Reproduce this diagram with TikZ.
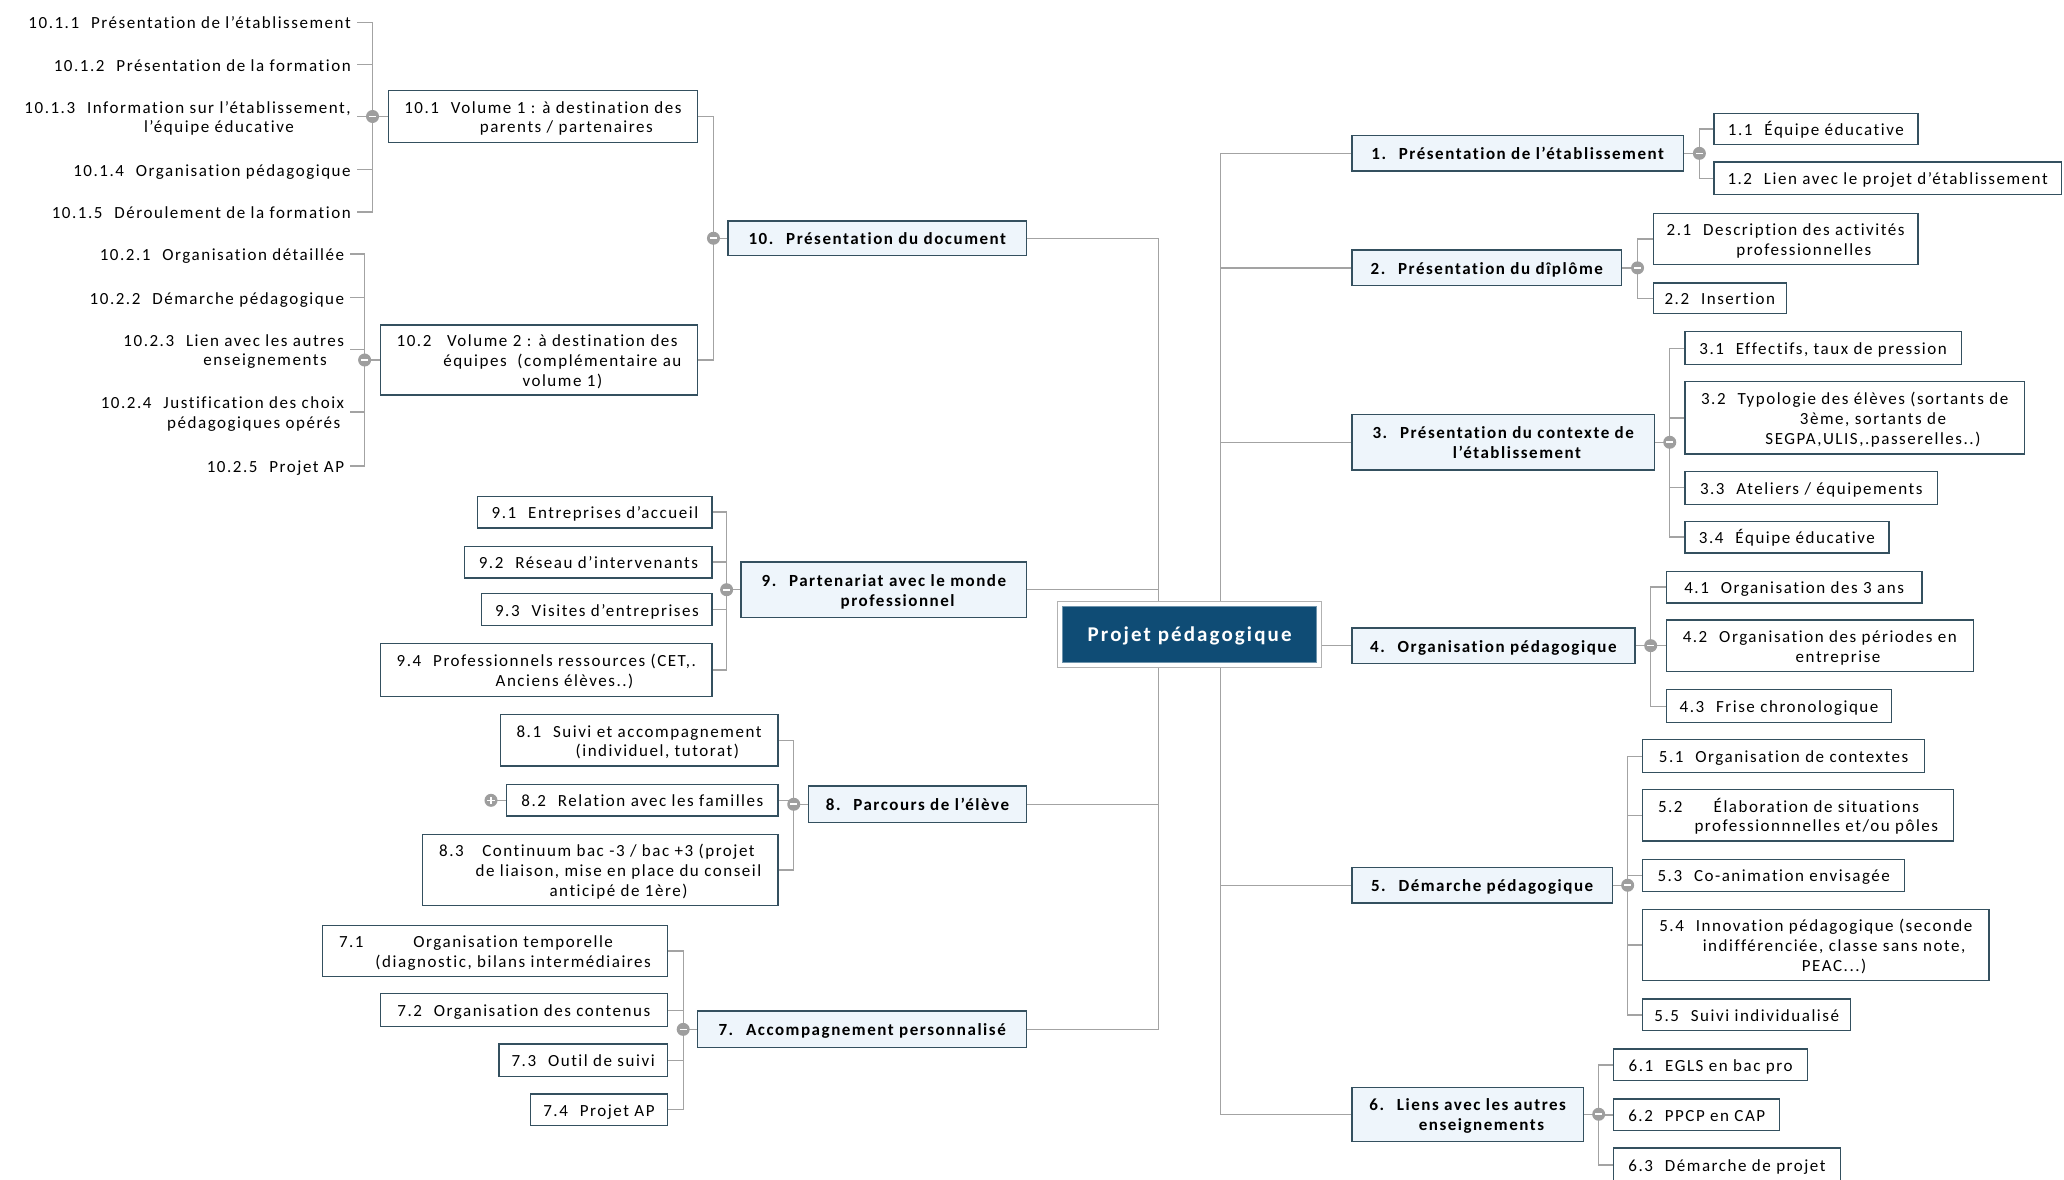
\documentclass[tikz,border=0pt]{standalone}
\usepackage{fontspec}
\setmainfont{Carlito}[LetterSpace=9, Ligatures={NoCommon}]
\usetikzlibrary{calc,backgrounds}
\definecolor{linecol}{HTML}{A3A3A3}
\definecolor{boxcol}{HTML}{34505F}
\definecolor{mainfill}{HTML}{EEF5FB}
\definecolor{rootblue}{HTML}{0F4C75}
\definecolor{circfill}{HTML}{9E9E9E}
\newcommand{\nt}[2]{\rule{0pt}{19pt}#1\hspace{0.7em}\begin{tabular}[t]{@{}c@{}}#2\end{tabular}}
\newcommand{\mt}[2]{\rule{0pt}{19pt}#1\hspace{0.75em}\begin{tabular}[t]{@{}c@{}}#2\end{tabular}}
\tikzset{
  base/.style={inner sep=0pt, outer sep=0pt, font=\fontsize{17}{19.7}\selectfont},
  bx/.style n args={4}{at={({(#1+#3)/2},{(#2+#4)/2})}, minimum width={(#3-#1)*1.3163pt}, minimum height={(#4-#2)*1.3163pt}},
  sub/.style={base, draw=boxcol, line width=1.3pt, fill=white},
  mainn/.style={base, draw=boxcol, line width=1.3pt, fill=mainfill, font=\fontsize{17}{19.7}\selectfont\bfseries},
  lbl/.style={base, anchor=east, outer xsep=6pt},
  conn/.style={draw=linecol, line width=1.3pt},
  minus/.style={circle, fill=circfill, minimum size=13pt, inner sep=0pt,
    path picture={\draw[white, line width=1.6pt] ([xshift=-3.6pt]path picture bounding box.center) -- ([xshift=3.6pt]path picture bounding box.center);}},
  plus/.style={circle, fill=circfill, minimum size=13pt, inner sep=0pt,
    path picture={\draw[white, line width=1.6pt] ([xshift=-3.6pt]path picture bounding box.center) -- ([xshift=3.6pt]path picture bounding box.center)
      ([yshift=-3.6pt]path picture bounding box.center) -- ([yshift=3.6pt]path picture bounding box.center);}}
}
\begin{document}
\begin{tikzpicture}[x=1.3163pt, y=-1.3163pt]
\useasboundingbox (0,0) rectangle (1568,896);
% ---------- root ----------
\node[inner sep=0pt, bx={803}{457}{1004}{507}, draw=gray!60, fill=white, line width=0.8pt] (rootframe) {};
\node[inner sep=0pt, bx={807.5}{460.5}{1000}{503.5}, fill=rootblue, draw=rootblue!60!white, line width=1pt,
  text=white, font=\fontsize{21}{24}\selectfont\bfseries\addfontfeatures{LetterSpace=10}] (root) {\rule{0pt}{17pt}Projet pédagogique};
\coordinate (tR) at (927,482);
\coordinate (tL) at (880,482);
% ---------- right side ----------
\node[mainn, bx={1027}{103}{1279}{130}] (n1) {\mt{1.}{Présentation de l'établissement}};
\node[sub, bx={1302}{86}{1457}{110}] (n11) {\nt{1.1}{Équipe éducative}};
\node[sub, bx={1302}{123}{1566}{148}] (n12) {\nt{1.2}{Lien avec le projet d'établissement}};
\node[mainn, bx={1027}{190}{1232}{217}] (n2) {\mt{2.}{Présentation du dîplôme}};
\node[sub, bx={1256}{162}{1457}{201}] (n21) {\nt{2.1}{Description des activités\\professionnelles}};
\node[sub, bx={1256}{215}{1357}{238}] (n22) {\nt{2.2}{Insertion}};
\node[mainn, bx={1027}{315}{1257}{357}] (n3) {\mt{3.}{Présentation du contexte de\\l'établissement}};
\node[sub, bx={1280}{252}{1490}{277}] (n31) {\nt{3.1}{Effectifs, taux de pression}};
\node[sub, bx={1280}{290}{1538}{345}] (n32) {\nt{3.2}{Typologie des élèves (sortants de\\3ème, sortants de\\SEGPA,ULIS,.passerelles..)}};
\node[sub, bx={1280}{358}{1472}{383}] (n33) {\nt{3.3}{Ateliers / équipements}};
\node[sub, bx={1280}{396}{1435}{420}] (n34) {\nt{3.4}{Équipe éducative}};
\node[mainn, bx={1027}{477}{1242}{504}] (n4) {\mt{4.}{Organisation pédagogique}};
\node[sub, bx={1266}{434}{1460}{458}] (n41) {\nt{4.1}{Organisation des 3 ans}};
\node[sub, bx={1266}{471}{1499}{510}] (n42) {\nt{4.2}{Organisation des périodes en\\entreprise}};
\node[sub, bx={1266}{524}{1437}{549}] (n43) {\nt{4.3}{Frise chronologique}};
\node[mainn, bx={1027}{659}{1225}{686}] (n5) {\mt{5.}{Démarche pédagogique}};
\node[sub, bx={1248}{562}{1462}{587}] (n51) {\nt{5.1}{Organisation de contextes}};
\node[sub, bx={1248}{600}{1484}{639}] (n52) {\nt{5.2}{Élaboration de situations\\professionnnelles et/ou pôles}};
\node[sub, bx={1248}{653}{1447}{677}] (n53) {\nt{5.3}{Co-animation envisagée}};
\node[sub, bx={1248}{691}{1511}{745}] (n54) {\nt{5.4}{Innovation pédagogique (seconde\\indifférenciée, classe sans note,\\PEAC...)}};
\node[sub, bx={1248}{759}{1406}{783}] (n55) {\nt{5.5}{Suivi individualisé}};
\node[mainn, bx={1027}{826}{1203}{867}] (n6) {\mt{6.}{Liens avec les autres\\enseignements}};
\node[sub, bx={1226}{797}{1373}{821}] (n61) {\nt{6.1}{EGLS en bac pro}};
\node[sub, bx={1226}{835}{1352}{859}] (n62) {\nt{6.2}{PPCP en CAP}};
\node[sub, bx={1226}{872}{1398}{898}] (n63) {\nt{6.3}{Démarche de projet}};
% ---------- left side ----------
\node[mainn, bx={553}{168}{780}{194}] (n10) {\mt{10.}{Présentation du document}};
\node[sub, bx={295}{69}{530}{108}] (n101) {\nt{10.1}{Volume 1 : à destination des\\parents / partenaires}};
\node[sub, bx={289}{247}{530}{300}] (n102) {\nt{10.2}{Volume 2 : à destination des\\équipes \ (complémentaire au\\volume 1)}};
\node[lbl] (l1011) at (271,17) {\nt{10.1.1}{Présentation de l'établissement}};
\node[lbl] (l1012) at (271,49) {\nt{10.1.2}{Présentation de la formation}};
\node[lbl] (l1013) at (271,88.5) {\nt{10.1.3}{Information sur l'établissement,\\l'équipe éducative}};
\node[lbl] (l1014) at (271,129) {\nt{10.1.4}{Organisation pédagogique}};
\node[lbl] (l1015) at (271,161) {\nt{10.1.5}{Déroulement de la formation}};
\node[lbl] (l1021) at (266,193) {\nt{10.2.1}{Organisation détaillée}};
\node[lbl] (l1022) at (266,226) {\nt{10.2.2}{Démarche pédagogique}};
\node[lbl] (l1023) at (266,265.5) {\nt{10.2.3}{Lien avec les autres\\enseignements}};
\node[lbl] (l1024) at (266,313) {\nt{10.2.4}{Justification des choix\\pédagogiques opérés}};
\node[lbl] (l1025) at (266,354) {\nt{10.2.5}{Projet AP}};
\node[mainn, bx={563}{427}{780}{469}] (n9) {\mt{9.}{Partenariat avec le monde\\professionnel}};
\node[sub, bx={363}{377}{541}{401}] (n91) {\nt{9.1}{Entreprises d'accueil}};
\node[sub, bx={353}{415}{541}{439}] (n92) {\nt{9.2}{Réseau d'intervenants}};
\node[sub, bx={366}{451}{541}{475}] (n93) {\nt{9.3}{Visites d'entreprises}};
\node[sub, bx={289}{489}{541}{529}] (n94) {\nt{9.4}{Professionnels ressources (CET,.\\Anciens élèves..)}};
\node[mainn, bx={614}{597}{780}{625}] (n8) {\mt{8.}{Parcours de l'élève}};
\node[sub, bx={380}{543}{591}{582}] (n81) {\nt{8.1}{Suivi et accompagnement\\(individuel, tutorat)}};
\node[sub, bx={385}{596}{591}{620}] (n82) {\nt{8.2}{Relation avec les familles}};
\node[sub, bx={321}{634}{591}{688}] (n83) {\nt{8.3}{Continuum bac -3 / bac +3 (projet\\de liaison, mise en place du conseil\\anticipé de 1ère)}};
\node[mainn, bx={530}{768}{780}{796}] (n7) {\mt{7.}{Accompagnement personnalisé}};
\node[sub, bx={245}{703}{507}{742}] (n71) {\nt{7.1}{Organisation temporelle\\(diagnostic, bilans intermédiaires}};
\node[sub, bx={289}{755}{507}{780}] (n72) {\nt{7.2}{Organisation des contenus}};
\node[sub, bx={379}{793}{507}{818}] (n73) {\nt{7.3}{Outil de suivi}};
\node[sub, bx={403}{831}{507}{855}] (n74) {\nt{7.4}{Projet AP}};
% ---------- collapse circles ----------
\node[minus] (c1) at ($(n1.east)+(12,0)$) {};
\node[minus] (c2) at ($(n2.east)+(12,0)$) {};
\node[minus] (c3) at ($(n3.east)+(11.5,0)$) {};
\node[minus] (c4) at ($(n4.east)+(12,0)$) {};
\node[minus] (c5) at ($(n5.east)+(11.5,0)$) {};
\node[minus] (c6) at ($(n6.east)+(11.5,0)$) {};
\node[minus] (c10) at ($(n10.west)+(-11,0)$) {};
\node[minus] (c101) at ($(n101.west)+(-12,0)$) {};
\node[minus] (c102) at ($(n102.west)+(-12,0)$) {};
\node[minus] (c9) at ($(n9.west)+(-11,0)$) {};
\node[minus] (c8) at ($(n8.west)+(-11,0)$) {};
\node[minus] (c7) at ($(n7.west)+(-11,0)$) {};
\node[plus] (p82) at ($(n82.west)+(-12,0)$) {};
% ---------- connectors ----------
\begin{scope}[on background layer]
\fill[white] (0,0) rectangle (1568,896);
\draw[conn] (n1.west) -| (tR) (n2.west) -| (tR) (n3.west) -| (tR)
            (n4.west) -| (tR) (n5.west) -| (tR) (n6.west) -| (tR);
\draw[conn] (n10.east) -| (tL) (n9.east) -| (tL) (n8.east) -| (tL) (n7.east) -| (tL);
\draw[conn] (n1.east) -- (c1.center) (c1.center) |- (n11.west) (c1.center) |- (n12.west);
\draw[conn] (n2.east) -- (c2.center) (c2.center) |- (n21.west) (c2.center) |- (n22.west);
\draw[conn] (n3.east) -- (c3.center) (c3.center) |- (n31.west) (c3.center) |- (n32.west)
            (c3.center) |- (n33.west) (c3.center) |- (n34.west);
\draw[conn] (n4.east) -- (c4.center) (c4.center) |- (n41.west) (c4.center) |- (n42.west) (c4.center) |- (n43.west);
\draw[conn] (n5.east) -- (c5.center) (c5.center) |- (n51.west) (c5.center) |- (n52.west)
            (c5.center) |- (n53.west) (c5.center) |- (n54.west) (c5.center) |- (n55.west);
\draw[conn] (n6.east) -- (c6.center) (c6.center) |- (n61.west) (c6.center) |- (n62.west) (c6.center) |- (n63.west);
\draw[conn] (n10.west) -- (c10.center) (c10.center) |- (n101.east) (c10.center) |- (n102.east);
\draw[conn] (n101.west) -- (c101.center) (c101.center) |- (l1011.east) (c101.center) |- (l1012.east)
            (c101.center) |- (l1013.east) (c101.center) |- (l1014.east) (c101.center) |- (l1015.east);
\draw[conn] (n102.west) -- (c102.center) (c102.center) |- (l1021.east) (c102.center) |- (l1022.east)
            (c102.center) |- (l1023.east) (c102.center) |- (l1024.east) (c102.center) |- (l1025.east);
\draw[conn] (n9.west) -- (c9.center) (c9.center) |- (n91.east) (c9.center) |- (n92.east)
            (c9.center) |- (n93.east) (c9.center) |- (n94.east);
\draw[conn] (n8.west) -- (c8.center) (c8.center) |- (n81.east) (c8.center) |- (n82.east) (c8.center) |- (n83.east);
\draw[conn] (n82.west) -- (p82.center);
\draw[conn] (n7.west) -- (c7.center) (c7.center) |- (n71.east) (c7.center) |- (n72.east)
            (c7.center) |- (n73.east) (c7.center) |- (n74.east);
\end{scope}
\end{tikzpicture}
\end{document}
